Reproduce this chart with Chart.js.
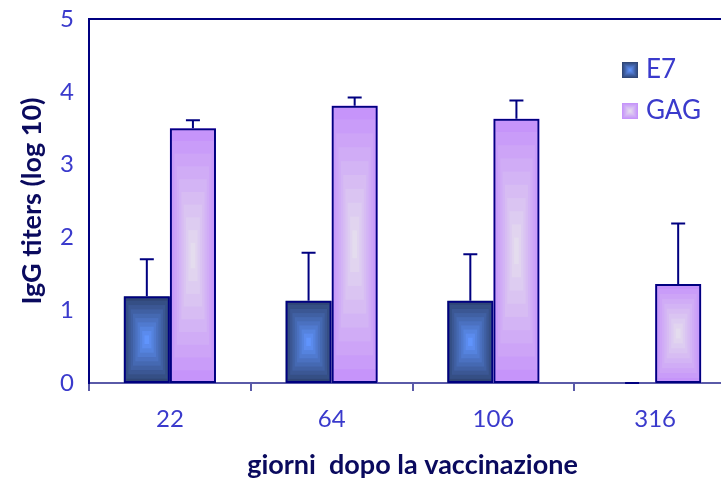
<!DOCTYPE html>
<html>
<head>
<meta charset="utf-8">
<script src="https://cdn.jsdelivr.net/npm/chart.js@4/dist/chart.umd.min.js"></script>
<style>
  html, body { margin: 0; padding: 0; background: #fff; overflow: hidden; }
  #wrap { width: 760px; height: 485px; }
</style>
</head>
<body>
<div id="wrap"><canvas id="chart" width="760" height="485"></canvas></div>
<script>
// giorni dopo la vaccinazione
const days = ["22", "64", "106", "316"]
// IgG titers (log 10)
const e7 = [1.19, 1.13, 1.13, 0]
const e7Err = [0.51, 0.66, 0.64, 0]
const gag = [3.5, 3.81, 3.63, 1.36]
const gagErr = [0.11, 0.11, 0.25, 0.83]
const yTicks = [0, 1, 2, 3, 4, 5]

const navy = "#000080"
const tickBlue = "#3a3acc"
const titleNavy = "#0a0a5e"

// edge colour -> centre colour of the "box" shading
const shades = {
  E7: { edge: [48, 70, 118], centre: [96, 148, 252] },
  GAG: { edge: [198, 148, 250], centre: [228, 220, 238] },
}

function mix(a, b, t) {
  return "rgb(" + a.map((v, i) => Math.round(v + (b[i] - v) * t)).join(",") + ")"
}

function boxShade(ctx, l, t, r, b, shade) {
  const steps = 10
  const w = r - l
  const h = b - t
  for (let i = 0; i < steps; i++) {
    const f = i / steps
    ctx.fillStyle = mix(shade.edge, shade.centre, i / (steps - 1))
    ctx.fillRect(l + (f * w) / 2, t + (f * h) / 2, w * (1 - f), h * (1 - f))
  }
}

const errors = [e7Err, gagErr]

const barDecor = {
  id: "barDecor",
  beforeDatasetsDraw(chart) {
    const ctx = chart.ctx
    ctx.save()
    chart.data.datasets.forEach((ds, di) => {
      chart.getDatasetMeta(di).data.forEach((bar) => {
        const top = Math.min(bar.y, bar.base)
        const bottom = Math.max(bar.y, bar.base)
        if (bottom - top < 1) return
        boxShade(ctx, bar.x - bar.width / 2, top, bar.x + bar.width / 2, bottom, shades[ds.label])
      })
    })
    ctx.restore()
  },
  afterDatasetsDraw(chart) {
    const ctx = chart.ctx
    const y = chart.scales.y
    ctx.save()
    ctx.strokeStyle = navy
    ctx.lineWidth = 2
    chart.data.datasets.forEach((ds, di) => {
      chart.getDatasetMeta(di).data.forEach((bar, i) => {
        const v = ds.data[i]
        const yTop = y.getPixelForValue(v + errors[di][i])
        ctx.beginPath()
        ctx.moveTo(bar.x, bar.y)
        ctx.lineTo(bar.x, yTop)
        ctx.moveTo(bar.x - 7, yTop)
        ctx.lineTo(bar.x + 7, yTop)
        ctx.stroke()
      })
    })
    ctx.restore()
  },
  afterDraw(chart) {
    const ctx = chart.ctx
    const area = chart.chartArea
    ctx.save()
    // top frame line
    ctx.strokeStyle = navy
    ctx.lineWidth = 2
    ctx.beginPath()
    ctx.moveTo(area.left, area.top)
    ctx.lineTo(area.right, area.top)
    ctx.stroke()
    // legend
    ctx.font = "26px Lato"
    ctx.textBaseline = "middle"
    chart.data.datasets.forEach((ds, di) => {
      const ly = 62 + di * 41
      boxShade(ctx, 622, ly, 638, ly + 16, shades[ds.label])
      ctx.fillStyle = tickBlue
      ctx.fillText(ds.label, 646, ly + 8)
    })
    ctx.restore()
  },
}

const barStyle = {
  backgroundColor: "rgba(0,0,0,0)",
  borderColor: navy,
  borderWidth: 2,
  borderSkipped: false,
  categoryPercentage: 0.57,
  barPercentage: 1,
}

new Chart(document.getElementById("chart"), {
  type: "bar",
  data: {
    labels: days,
    datasets: [
      { label: "E7", data: e7, ...barStyle },
      { label: "GAG", data: gag, ...barStyle },
    ],
  },
  options: {
    responsive: false,
    animation: false,
    layout: { padding: { left: 12, top: 19, right: 24, bottom: 0 } },
    plugins: {
      legend: { display: false },
      tooltip: { enabled: false },
      colors: { enabled: false },
    },
    scales: {
      x: {
        afterFit: (s) => {
          s.height = 102
          s.paddingLeft = 0
          s.paddingRight = 0
        },
        grid: {
          offset: true,
          drawOnChartArea: false,
          drawTicks: true,
          tickLength: 8,
          color: "#5a5aa8",
          lineWidth: 2,
        },
        border: { color: "#5a5aa8", width: 2 },
        ticks: {
          color: tickBlue,
          padding: 14,
          font: { family: "Lato", size: 24 },
        },
        title: {
          display: true,
          text: "giorni  dopo la vaccinazione",
          color: titleNavy,
          font: { family: "Lato", size: 27, weight: "bold" },
          padding: { top: 0, bottom: 4 },
        },
      },
      y: {
        min: 0,
        max: 5,
        afterFit: (s) => {
          s.width = 77
          s.paddingTop = 0
          s.paddingBottom = 0
        },
        afterBuildTicks: (s) => { s.ticks = yTicks.map((v) => ({ value: v })) },
        grid: { display: false, drawTicks: false },
        border: { color: navy, width: 2 },
        ticks: {
          color: tickBlue,
          padding: 15,
          font: { family: "Lato", size: 24 },
        },
        title: {
          display: true,
          text: "IgG titers (log 10)",
          color: titleNavy,
          font: { family: "Lato", size: 27, weight: "bold" },
          padding: { top: 4, bottom: 0 },
        },
      },
    },
  },
  plugins: [barDecor],
})
</script>
</body>
</html>
